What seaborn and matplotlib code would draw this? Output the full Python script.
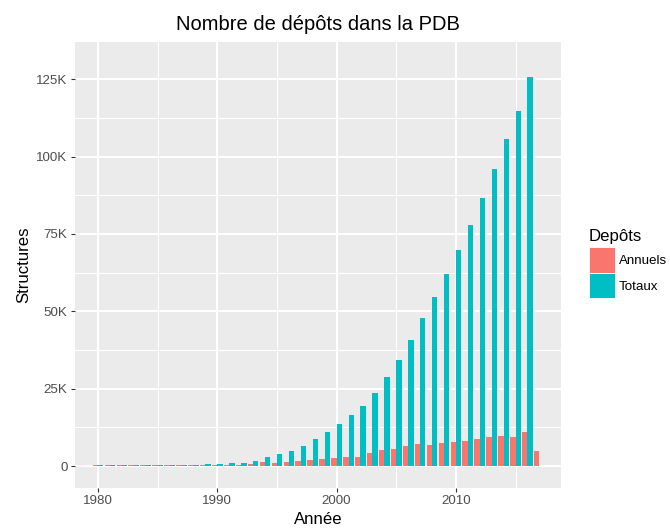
import numpy as np
import pandas as pd
import matplotlib
matplotlib.use("Agg")
import matplotlib.pyplot as plt
import matplotlib.patches as mpatches
from matplotlib.ticker import FixedLocator, FuncFormatter
import seaborn as sns

years_total = list(range(1980, 2017))
totaux = [0.30, 0.32, 0.34, 0.36, 0.38, 0.40, 0.42, 0.45, 0.48, 0.52,
          0.60, 0.85, 1.10, 1.60, 2.80, 3.80, 4.90, 6.40, 8.60, 10.9,
          13.6, 16.5, 19.5, 23.7, 28.8, 34.2, 40.6, 47.7, 54.6, 62.0,
          69.8, 77.8, 86.6, 95.9, 105.6, 114.7, 125.6]
years_annual = list(range(1980, 2018))
annuels = [0.30, 0.30, 0.30, 0.30, 0.30, 0.30, 0.30, 0.30, 0.30, 0.30,
           0.30, 0.35, 0.40, 0.60, 1.20, 1.00, 1.20, 1.50, 1.90, 2.20,
           2.60, 2.90, 2.90, 4.20, 5.20, 5.50, 6.50, 7.10, 6.80, 7.40,
           7.80, 8.10, 8.70, 9.40, 9.70, 9.40, 11.0, 4.8]
series_names = ["Annuels", "Totaux"]
colors = ["#F8766D", "#00BFC4"]
xticks = [1980, 1990, 2000, 2010]
yticks = [0, 25, 50, 75, 100, 125]

df = pd.concat([
    pd.DataFrame({"Année": years_annual, "Structures": annuels, "Depôts": series_names[0]}),
    pd.DataFrame({"Année": years_total, "Structures": totaux, "Depôts": series_names[1]}),
], ignore_index=True)

plt.rcParams['font.family'] = ['Liberation Sans', 'DejaVu Sans']

fig = plt.figure(figsize=(6.70, 5.29), dpi=100)
ax = fig.add_axes([75/670, 1-487.7/529, (561-75)/670, (487.7-42)/529])
ax.set_facecolor("#EBEBEB")

sns.barplot(data=df, x="Année", y="Structures", hue="Depôts", hue_order=series_names,
            palette=colors, native_scale=True, width=0.9, dodge=True,
            saturation=1, errorbar=None, linewidth=0, ax=ax, legend=False)

ax.set_xlim(1978.07, 2018.81)
ax.set_ylim(-7.0, 137.0)
ax.xaxis.set_major_locator(FixedLocator(xticks))
ax.xaxis.set_minor_locator(FixedLocator([1985, 1995, 2005, 2015]))
ax.yaxis.set_major_locator(FixedLocator(yticks))
ax.yaxis.set_minor_locator(FixedLocator([12.5, 37.5, 62.5, 87.5, 112.5]))
ax.xaxis.set_major_formatter(FuncFormatter(lambda v, p: f"{int(v)}"))
ax.yaxis.set_major_formatter(FuncFormatter(lambda v, p: "0" if v == 0 else f"{int(v)}K"))

ax.set_axisbelow(True)
ax.grid(which="major", color="white", linewidth=1.5)
ax.grid(which="minor", color="white", linewidth=0.75)
for s in ax.spines.values():
    s.set_visible(False)
ax.tick_params(which="major", length=3.0, width=0.8, color="#333333",
               labelcolor="#4D4D4D", labelsize=9.68, pad=2.4)
ax.tick_params(which="minor", length=0)

ax.set_xlabel("Année", fontsize=12.1, color="black", labelpad=3.5)
ax.set_ylabel("Structures", fontsize=12.1, color="black", labelpad=3.5)
ax.set_title("Nombre de dépôts dans la PDB", fontsize=14.52, pad=9)

handles = [mpatches.Patch(facecolor=c, edgecolor="white", linewidth=0.6) for c in colors]
leg = fig.legend(handles, series_names, title="Depôts", loc="upper left",
                 bbox_to_anchor=(589/670, 1-229/529), frameon=False,
                 fontsize=9.68, title_fontsize=12.1, handlelength=1.93, handleheight=2.54,
                 handletextpad=0.3, labelspacing=0.0, borderpad=0, borderaxespad=0,
                 alignment="left")
leg._legend_box.sep = 2.5

fig.savefig("out.png", dpi=100)
